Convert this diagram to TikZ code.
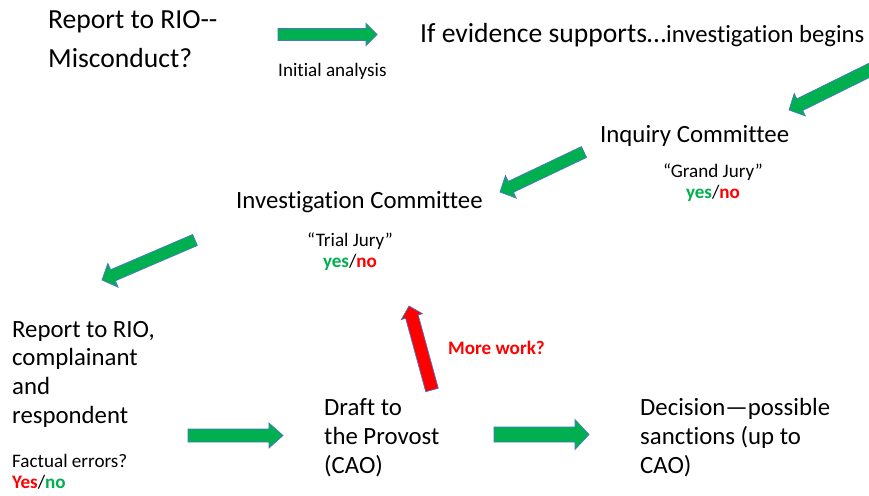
\documentclass[tikz,border=0pt]{standalone}
\usepackage{fontspec}
\setmainfont{Carlito}[Ligatures={NoCommon}]
\usetikzlibrary{calc}
\definecolor{pgreen}{HTML}{00B050}
\definecolor{pred}{HTML}{FF0000}
\definecolor{pblue}{HTML}{4A76C2}
\newcommand\blockarrow[6]{%
  \coordinate (ba-b) at ($(#2)!#5!(#1)$);
  \filldraw[blockarr,#6]
    ($(#1)!#3!90:(#2)$) -- ($(ba-b)!#3!90:(#2)$) -- ($(ba-b)!#4!90:(#2)$) -- (#2)
    -- ($(ba-b)!#4!-90:(#2)$) -- ($(ba-b)!#3!-90:(#2)$) -- ($(#1)!#3!-90:(#2)$) -- cycle;}
\tikzset{
  txt/.style={inner sep=0pt, anchor=base west, align=left, font=\fontsize{24.8}{28.8}\selectfont},
  bigtxt/.style={inner sep=0pt, anchor=base west, align=left, font=\fontsize{27.6}{39}\selectfont},
  smalltxt/.style={inner sep=0pt, anchor=base west, align=left, font=\fontsize{19.1}{21}\selectfont},
  jury/.style={inner sep=0pt, anchor=base, align=center, font=\fontsize{19.1}{21}\selectfont},
  blockarr/.style={draw=pblue, line width=0.7pt, fill=pgreen, line join=miter},
}
\newcommand\yes[1]{{\bfseries\color{pgreen}#1}}
\newcommand\no[1]{{\bfseries\color{pred}#1}}
\begin{document}
\begin{tikzpicture}[x=1pt,y=-1pt]
\useasboundingbox (0,0) rectangle (869,495);
\fill[white] (0,0) rectangle (869,495);
% texts (multi-line nodes are placed by the baseline of their last line)
\node[bigtxt] (rio) at (48,67.5) {Report to RIO-{}-\\Misconduct?};
\node[smalltxt] (init) at (278,76) {Initial analysis};
\node[bigtxt] (ifev) at (420,43) {If evidence supports…\fontsize{24.7}{28.8}\selectfont investigation begins};
\node[txt] (inq) at (600,142) {Inquiry Committee};
\node[jury] (gj) at (713,198) {“Grand Jury”\\\yes{yes}/\no{no}};
\node[txt] (inv) at (236,208) {Investigation Committee};
\node[jury] (tj) at (350,267) {“Trial Jury”\\\yes{yes}/\no{no}};
\node[txt] (rep) at (12,423.5) {Report to RIO,\\complainant\\and\\respondent};
\node[smalltxt] (fe) at (12,488) {Factual errors?\\\no{Yes}/\yes{no}};
\node[smalltxt, font=\fontsize{19.1}{21}\selectfont\bfseries, text=pred] (more) at (448,354) {More work?};
\node[txt] (draft) at (324,473) {Draft to\\the Provost\\(CAO)};
\node[txt] (dec) at (640,473) {Decision—possible\\sanctions (up to\\CAO)};
% arrow end points
\coordinate (a1t) at (278,34.5); \coordinate (a1h) at (377,34.5);
\coordinate (a2t) at (880,65);   \coordinate (a2h) at (789,110);
\coordinate (a3t) at (584,152);  \coordinate (a3h) at (500,192);
\coordinate (a4t) at (195,240);  \coordinate (a4h) at (102,280);
\coordinate (a5t) at (432,390);  \coordinate (a5h) at (409,306);
\coordinate (a6t) at (188,435.5);\coordinate (a6h) at (283,435.5);
\coordinate (a7t) at (494,434.5);\coordinate (a7h) at (589,434.5);
\blockarrow{a1t}{a1h}{6pt}{11pt}{11pt}{}
\blockarrow{a2t}{a2h}{6.5pt}{12.5pt}{12pt}{}
\blockarrow{a3t}{a3h}{6pt}{12.5pt}{12pt}{}
\blockarrow{a4t}{a4h}{6pt}{13pt}{12pt}{}
\blockarrow{a5t}{a5h}{6.5pt}{11pt}{11pt}{fill=pred}
\blockarrow{a6t}{a6h}{6.5pt}{12.5pt}{14pt}{}
\blockarrow{a7t}{a7h}{7.5pt}{15pt}{14pt}{}
\end{tikzpicture}
\end{document}
